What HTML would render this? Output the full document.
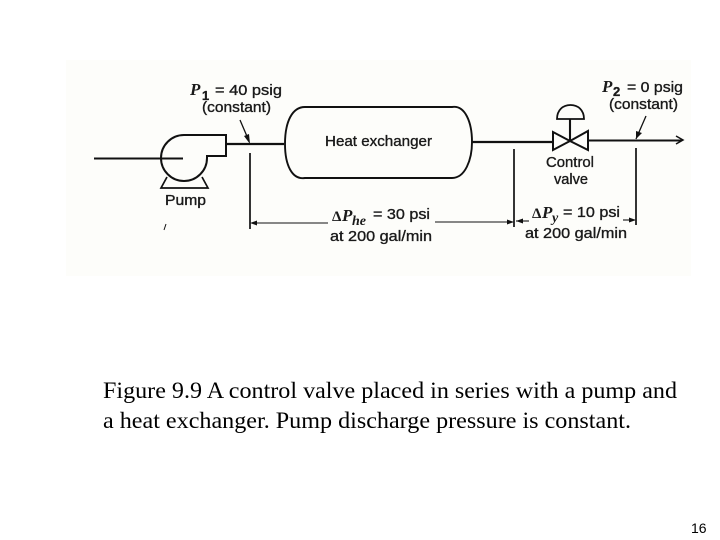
<!DOCTYPE html>
<html>
<head>
<meta charset="utf-8">
<style>
html,body{margin:0;padding:0;background:#fff;}
svg{display:block;}
.s{font-family:"Liberation Sans",sans-serif;fill:#1a1a1a;stroke:#1a1a1a;stroke-width:.35;}
.b{font-family:"Liberation Serif",serif;font-weight:bold;font-style:italic;fill:#1a1a1a;}
.d{font-family:"Liberation Serif",serif;font-weight:bold;font-style:normal;fill:#1a1a1a;}
</style>
</head>
<body>
<svg width="720" height="540" viewBox="0 0 720 540" xmlns="http://www.w3.org/2000/svg">
<rect x="66" y="60" width="625" height="216" fill="#fdfdfa"/>
<g fill="none" stroke="#111" stroke-width="1.7">
<!-- pump -->
<path d="M94 158.500H183" stroke-width="2"/>
<path d="M207 156H226V135H184A23 23 0 1 0 207 158Z" stroke-width="2"/>
<path d="M167 177L161 188H208L202 177" stroke-width="1.700"/>
<!-- pipes -->
<path d="M226 144H284" stroke-width="2.200"/>
<path d="M285 144C285 122 292 107 305 107H452C465 105 472 122 472 142C472 160 465 178 452 178H305C292 180 285 165 285 144Z" stroke-width="1.900"/>
<path d="M472 142H553" stroke-width="2.200"/>
<path d="M588 140.500H682" stroke-width="2"/>
<path d="M676 136L683 140L676 144" stroke-width="1.500"/>
<!-- valve -->
<path d="M553 132V150L570 141L588 150V131L570 141Z" stroke-width="2"/>
<path d="M570 119V141" stroke-width="2.100"/>
<path d="M557 119C557 110 563 105 570.500 105C578 105 584 110 584 119Z" stroke-width="1.800"/>
<!-- leaders -->
<path d="M240 120L249 141" stroke-width="1.300"/>
<path d="M646 116L636 139" stroke-width="1.300"/>
<!-- dimension verticals -->
<path d="M250 153V229" stroke-width="1.700"/>
<path d="M514 149V227" stroke-width="1.700"/>
<path d="M636 148V225" stroke-width="1.700"/>
<!-- dimension lines -->
<path d="M252 223H328" stroke-width="1.100"/>
<path d="M435 222H513" stroke-width="1.100"/>
<path d="M516 221H529" stroke-width="1.100"/>
<path d="M623 220H635" stroke-width="1.100"/>
<path d="M166 224L164 230" stroke-width="1"/>
</g>
<g fill="#111">
<path d="M250 223L257 220.500V225.500Z"/>
<path d="M514 222L507 219.500V224.500Z"/>
<path d="M516 221L523 218.500V223.500Z"/>
<path d="M636 220L629 217.500V222.500Z"/>
<path d="M250 144L244 136L249 134Z"/>
<path d="M636 139L636 131L642 133Z"/>
</g>
<!-- labels -->
<text class="b" x="190" y="95" font-size="17">P</text>
<text class="s" x="202" y="100" font-size="13" font-weight="bold">1</text>
<text class="s" x="215" y="95" font-size="15" textLength="67" lengthAdjust="spacingAndGlyphs">= 40 psig</text>
<text class="s" x="202" y="112" font-size="14.500" textLength="69" lengthAdjust="spacingAndGlyphs">(constant)</text>
<text class="s" x="165" y="205" font-size="14.500" textLength="41" lengthAdjust="spacingAndGlyphs">Pump</text>
<text class="s" x="325" y="146" font-size="14.500" textLength="107" lengthAdjust="spacingAndGlyphs">Heat exchanger</text>

<text class="b" x="602" y="92" font-size="17">P</text>
<text class="s" x="613" y="96" font-size="13" font-weight="bold">2</text>
<text class="s" x="627" y="92" font-size="15" textLength="56" lengthAdjust="spacingAndGlyphs">= 0 psig</text>
<text class="s" x="609" y="109" font-size="14.500" textLength="69" lengthAdjust="spacingAndGlyphs">(constant)</text>
<text class="s" x="546" y="167" font-size="14.500" textLength="48" lengthAdjust="spacingAndGlyphs">Control</text>
<text class="s" x="554" y="184" font-size="14.500" textLength="34" lengthAdjust="spacingAndGlyphs">valve</text>

<text class="d" x="332" y="221" font-size="15">Δ</text>
<text class="b" x="342" y="221" font-size="17">P</text>
<text class="b" x="352" y="225" font-size="14">he</text>
<text class="s" x="373" y="219" font-size="15" textLength="57" lengthAdjust="spacingAndGlyphs">= 30 psi</text>
<text class="s" x="330" y="241" font-size="14.500" textLength="102" lengthAdjust="spacingAndGlyphs">at 200 gal/min</text>

<text class="d" x="532" y="218" font-size="15">Δ</text>
<text class="b" x="542" y="218" font-size="17">P</text>
<text class="b" x="552" y="222" font-size="14">y</text>
<text class="s" x="563" y="217" font-size="15" textLength="57" lengthAdjust="spacingAndGlyphs">= 10 psi</text>
<text class="s" x="525" y="238" font-size="14.500" textLength="102" lengthAdjust="spacingAndGlyphs">at 200 gal/min</text>

<text x="103" y="398" font-family="'Liberation Serif',serif" font-size="23" fill="#000" textLength="574" lengthAdjust="spacingAndGlyphs">Figure 9.9 A control valve placed in series with a pump and</text>
<text x="103" y="428" font-family="'Liberation Serif',serif" font-size="23" fill="#000" textLength="528" lengthAdjust="spacingAndGlyphs">a heat exchanger. Pump discharge pressure is constant.</text>
<text x="691" y="533" font-family="'Liberation Sans',sans-serif" font-size="14" fill="#000">16</text>
</svg>
</body>
</html>
